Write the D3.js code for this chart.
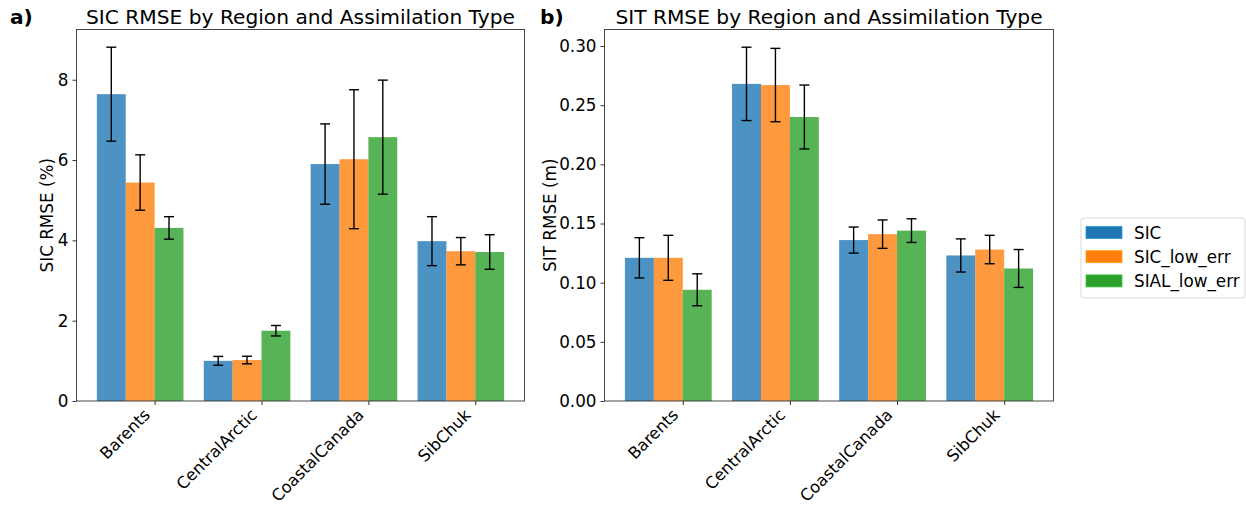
<!DOCTYPE html>
<html>
<head>
<meta charset="utf-8">
<script src="https://cdnjs.cloudflare.com/ajax/libs/d3/7.8.5/d3.min.js"></script>
<style>
  body { margin: 0; background: #fff; }
  svg text { font-family: "DejaVu Sans", sans-serif; fill: #000; }
</style>
</head>
<body>
<div id="root"></div>
<script>
const regions = ['Barents', 'CentralArctic', 'CoastalCanada', 'SibChuk'];
const types = ['SIC', 'SIC_low_err', 'SIAL_low_err'];
const colors = ['#1f77b4', '#ff7f0e', '#2ca02c'];

// SIC RMSE (%) per type, one value per region
const sicMean = [
  [7.64, 1.00, 5.90, 3.98],
  [5.44, 1.02, 6.02, 3.73],
  [4.31, 1.75, 6.57, 3.71]
];
const sicErr = [
  [1.17, 0.11, 1.00, 0.61],
  [0.69, 0.095, 1.73, 0.34],
  [0.28, 0.13, 1.42, 0.43]
];

// SIT RMSE (m)
const sitMean = [
  [0.121, 0.268, 0.136, 0.123],
  [0.121, 0.267, 0.141, 0.128],
  [0.094, 0.240, 0.144, 0.112]
];
const sitErr = [
  [0.017, 0.031, 0.011, 0.014],
  [0.019, 0.031, 0.012, 0.012],
  [0.0135, 0.027, 0.010, 0.016]
];

const sicTicks = [0, 2, 4, 6, 8];
const sitTicks = [0, 0.05, 0.10, 0.15, 0.20, 0.25, 0.30];

const W = 1246, H = 505;
const barW = 0.27;
const plotTop = 29.5, plotBottom = 401;
const fs = 16.8;

const svg = d3.select('#root').append('svg')
  .attr('width', W).attr('height', H);

const drawPanel = ({ left, right, mean, err, ticks, fmt, title, ylabel, ylabelX, tag, tagX }) => {
  // x domain like matplotlib autoscale: bars span [-2w, 3+w] plus 5% margins
  const lo = -2 * barW, hi = regions.length - 1 + barW;
  const pad = (hi - lo) * 0.05;
  const x = d3.scaleLinear().domain([lo - pad, hi + pad]).range([left, right]);

  let maxTop = 0;
  mean.forEach((row, i) => row.forEach((v, j) => { maxTop = Math.max(maxTop, v + err[i][j]); }));
  const y = d3.scaleLinear().domain([0, maxTop * 1.05]).range([plotBottom, plotTop]);

  const g = svg.append('g');

  mean.forEach((row, i) => {
    const off = (i - 2) * barW;
    g.selectAll(null)
      .data(row)
      .enter()
      .append('rect')
      .attr('x', (d, j) => x(j + off))
      .attr('width', x(barW) - x(0))
      .attr('y', d => y(d))
      .attr('height', d => y(0) - y(d))
      .attr('fill', colors[i])
      .attr('fill-opacity', 0.8);
  });

  mean.forEach((row, i) => {
    const off = (i - 1.5) * barW;
    const eb = g.selectAll(null)
      .data(row.map((d, j) => ({ j, d, e: err[i][j] })))
      .enter()
      .append('g')
      .attr('stroke', '#000')
      .attr('stroke-width', 1.4);
    eb.append('line')
      .attr('x1', d => x(d.j + off)).attr('x2', d => x(d.j + off))
      .attr('y1', d => y(d.d - d.e)).attr('y2', d => y(d.d + d.e));
    eb.append('line')
      .attr('x1', d => x(d.j + off) - 5).attr('x2', d => x(d.j + off) + 5)
      .attr('y1', d => y(d.d - d.e)).attr('y2', d => y(d.d - d.e));
    eb.append('line')
      .attr('x1', d => x(d.j + off) - 5).attr('x2', d => x(d.j + off) + 5)
      .attr('y1', d => y(d.d + d.e)).attr('y2', d => y(d.d + d.e));
  });

  // frame
  g.append('rect')
    .attr('x', left).attr('y', plotTop)
    .attr('width', right - left).attr('height', plotBottom - plotTop)
    .attr('fill', 'none').attr('stroke', '#333').attr('stroke-width', 0.9);

  const yAxis = g.append('g')
    .attr('transform', `translate(${left},0)`)
    .call(d3.axisLeft(y).tickValues(ticks).tickFormat(fmt).tickSize(4).tickPadding(4));
  yAxis.select('.domain').remove();
  yAxis.selectAll('.tick line').attr('stroke', '#333');
  yAxis.selectAll('.tick text').attr('font-size', fs).attr('font-family', '"DejaVu Sans", sans-serif');

  const xAxis = g.append('g')
    .attr('transform', `translate(0,${plotBottom})`)
    .call(d3.axisBottom(x).tickValues(d3.range(regions.length)).tickFormat(i => regions[i]).tickSize(4));
  xAxis.select('.domain').remove();
  xAxis.selectAll('.tick line').attr('stroke', '#333');
  xAxis.selectAll('.tick text')
    .attr('font-size', 16.3)
    .attr('font-family', '"DejaVu Sans", sans-serif')
    .attr('text-anchor', 'end')
    .attr('dy', null)
    .attr('y', 0)
    .attr('transform', 'translate(-4,15) rotate(-45)');

  svg.append('text')
    .attr('x', (left + right) / 2).attr('y', 24)
    .attr('text-anchor', 'middle')
    .attr('font-size', 20.2)
    .text(title);

  svg.append('text')
    .attr('transform', `translate(${ylabelX},${(plotTop + plotBottom) / 2}) rotate(-90)`)
    .attr('text-anchor', 'middle')
    .attr('font-size', fs)
    .text(ylabel);

  svg.append('text')
    .attr('x', tagX).attr('y', 24)
    .attr('font-size', 20.2)
    .attr('font-weight', 'bold')
    .text(tag);
};

drawPanel({
  left: 76.5, right: 524.5,
  mean: sicMean, err: sicErr, ticks: sicTicks, fmt: d3.format('d'),
  title: 'SIC RMSE by Region and Assimilation Type', ylabel: 'SIC RMSE (%)', ylabelX: 53,
  tag: 'a)', tagX: 10
});

drawPanel({
  left: 604.5, right: 1053.5,
  mean: sitMean, err: sitErr, ticks: sitTicks, fmt: d3.format('.2f'),
  title: 'SIT RMSE by Region and Assimilation Type', ylabel: 'SIT RMSE (m)', ylabelX: 556,
  tag: 'b)', tagX: 540
});

// legend
const legend = svg.append('g').attr('transform', 'translate(1081,218)');
legend.append('rect')
  .attr('width', 164).attr('height', 80).attr('rx', 3)
  .attr('fill', '#fff').attr('stroke', '#d9d9d9');
types.forEach((t, i) => {
  legend.append('rect')
    .attr('x', 5).attr('y', 8.5 + i * 24.2)
    .attr('width', 36).attr('height', 12)
    .attr('fill', colors[i])
    .attr('stroke', d3.color(colors[i]).brighter(0.6)).attr('stroke-width', 0.8);
  legend.append('text')
    .attr('x', 53).attr('y', 20.5 + i * 24.2)
    .attr('font-size', fs)
    .text(t);
});
</script>
</body>
</html>
